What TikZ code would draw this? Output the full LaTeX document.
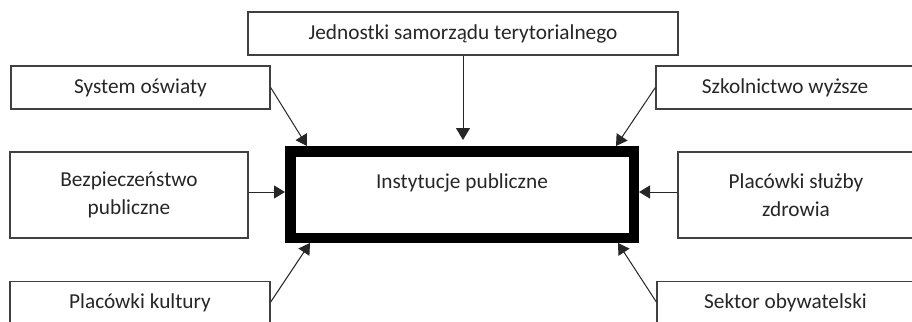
\documentclass[tikz,border=0pt]{standalone}
\usepackage{fontspec}
\setmainfont{Carlito}
\usetikzlibrary{arrows.meta,calc}
\definecolor{boxline}{HTML}{404040}
\definecolor{txt}{HTML}{262626}
\begin{document}
\begin{tikzpicture}[x=1pt,y=-1pt,
  every node/.style={font=\fontsize{21.3pt}{28pt}\selectfont, text=txt},
  sbox/.style={draw=boxline, line width=1.3pt, rectangle, inner sep=0pt, align=center},
  mainbox/.style={draw=black, line width=10.5pt, rectangle, inner sep=0pt},
  conn/.style={draw=black!85, line width=1pt, -{Triangle[length=11pt,width=13pt]}}
]
\useasboundingbox (0,0) rectangle (912,321);
\clip (0,0) rectangle (912,321);

\node[sbox, minimum width=430pt, minimum height=43pt] (top) at (463,33.5) {Jednostki samorządu terytorialnego};
\node[sbox, minimum width=259pt, minimum height=43pt] (sys) at (140.5,87.5) {System oświaty};
\node[sbox, minimum width=258pt, minimum height=43pt] (szk) at (785,87.5) {Szkolnictwo wyższe};
\node[sbox, minimum width=238pt, minimum height=86pt] (bez) at (129,195) {Bezpieczeństwo\\publiczne};
\node[sbox, minimum width=236pt, minimum height=86pt] (psz) at (796,195) {Placówki służby\\zdrowia};
\node[sbox, minimum width=260pt, minimum height=43pt] (kul) at (140,303) {Placówki kultury};
\node[sbox, minimum width=257pt, minimum height=43pt] (sek) at (785.5,303) {Sektor obywatelski};

\node[mainbox, minimum width=343.5pt, minimum height=86.5pt,
  label={[name=instlabel, yshift=11.5pt]center:Instytucje publiczne}] (inst) at (462,194.5) {};

\coordinate (tsys) at ($(inst.north west)+(22,0)$);
\coordinate (tszk) at ($(inst.north east)+(-23,0)$);
\coordinate (tkul) at ($(inst.south west)+(25,0)$);
\coordinate (tsek) at ($(inst.south east)+(-21,0)$);

\draw[conn, -{Triangle[length=12pt,width=14pt]}, shorten >=6pt] (top.south) -- (top.south |- inst.north);
\draw[conn] (sys.east) -- (tsys);
\draw[conn] (szk.west) -- (tszk);
\draw[conn] ([yshift=3pt]bez.east) -- ([yshift=3pt]bez.east -| inst.west);
\draw[conn] ([yshift=3pt]psz.west) -- ([yshift=3pt]psz.west -| inst.east);
\draw[conn] ([yshift=1pt]kul.east) -- (tkul);
\draw[conn] ([yshift=1pt]sek.west) -- (tsek);
\end{tikzpicture}
\end{document}
